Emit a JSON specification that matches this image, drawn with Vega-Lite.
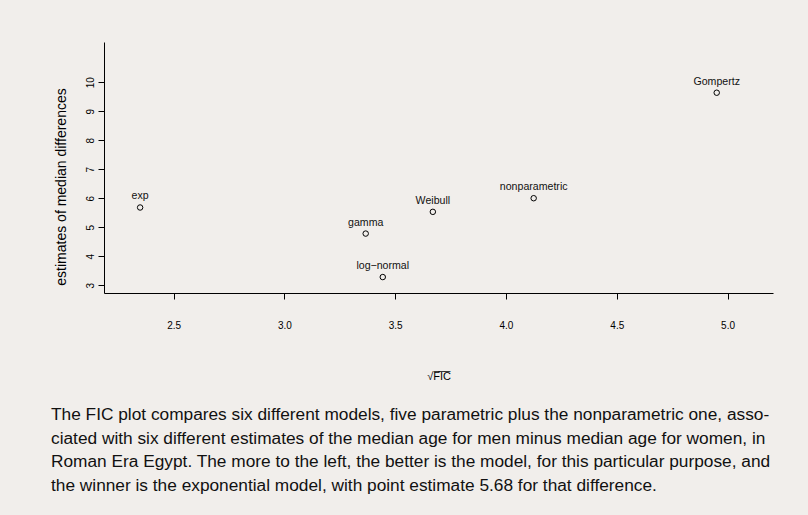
{
  "$schema": "https://vega.github.io/schema/vega-lite/v6.json",
  "autosize": "none",
  "width": 669,
  "height": 251,
  "padding": {"left": 104, "top": 42, "right": 35, "bottom": 222},
  "background": "#f1eeeb",
  "config": {
    "view": {"stroke": null},
    "font": "Liberation Sans",
    "axis": {"grid": false, "domainColor": "#000", "tickColor": "#000", "labelColor": "#000", "titleColor": "#000", "labelFont": "Liberation Sans", "titleFont": "Liberation Sans", "titleFontWeight": "normal", "tickSize": 6, "domainWidth": 1, "tickWidth": 1}
  },
  "title": {
    "text": [
      "The FIC plot compares six different models, five parametric plus the nonparametric one, asso-",
      "ciated with six different estimates of the median age for men minus median age for women, in",
      "Roman Era Egypt. The more to the left, the better is the model, for this particular purpose, and",
      "the winner is the exponential model, with point estimate 5.68 for that difference."
    ],
    "orient": "bottom",
    "anchor": "start",
    "frame": "group",
    "dx": -53,
    "offset": 25,
    "fontSize": 17.3,
    "fontWeight": "normal",
    "font": "Liberation Sans",
    "color": "#111",
    "lineHeight": 23.5
  },
  "data": {
    "values": [
      {"model": "exp", "fic": 2.349, "est": 5.68},
      {"model": "gamma", "fic": 3.367, "est": 4.78},
      {"model": "log\u2212normal", "fic": 3.444, "est": 3.28},
      {"model": "Weibull", "fic": 3.670, "est": 5.53},
      {"model": "nonparametric", "fic": 4.125, "est": 6.00},
      {"model": "Gompertz", "fic": 4.951, "est": 9.64}
    ]
  },
  "encoding": {
    "x": {
      "field": "fic", "type": "quantitative",
      "scale": {"domain": [2.186, 5.205], "nice": false, "zero": false},
      "axis": {"values": [2.5, 3.0, 3.5, 4.0, 4.5, 5.0], "format": ".1f", "labelFontSize": 10, "labelPadding": 21, "title": "\u221aF\u0305I\u0305C\u0305", "titleFontSize": 11, "titlePadding": 40}
    },
    "y": {
      "field": "est", "type": "quantitative",
      "scale": {"domain": [2.73, 11.39], "nice": false, "zero": false},
      "axis": {"values": [3, 4, 5, 6, 7, 8, 9, 10], "labelAngle": -90, "labelAlign": "center", "labelBaseline": "bottom", "labelFontSize": 10, "labelPadding": 3, "title": "estimates of median differences", "titleFontSize": 14, "titleAngle": -90, "titleX": -43, "titleY": 144.5, "titleAlign": "center", "titleBaseline": "middle"}
    }
  },
  "layer": [
    {"mark": {"type": "point", "shape": "circle", "filled": false, "stroke": "#000", "strokeWidth": 1, "size": 30, "opacity": 1}},
    {"mark": {"type": "text", "dy": -11, "fontSize": 10.6, "color": "#111", "font": "Liberation Sans"}, "encoding": {"text": {"field": "model"}}}
  ]
}
